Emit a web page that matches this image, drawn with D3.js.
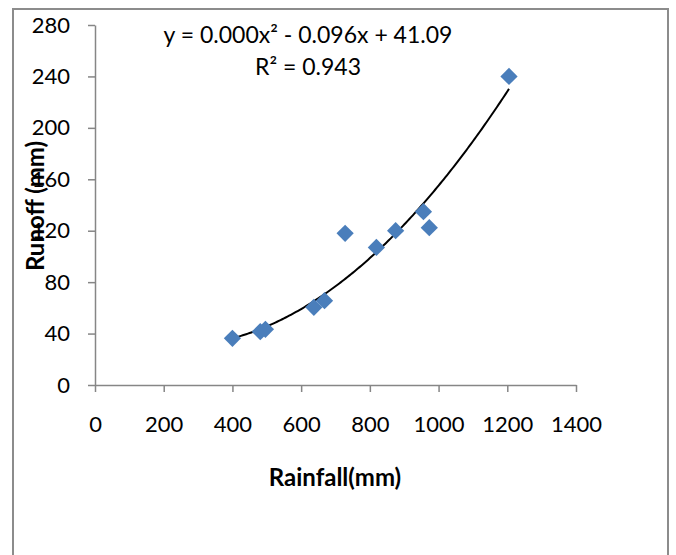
<!DOCTYPE html>
<html>
<head>
<meta charset="utf-8">
<script src="https://cdn.jsdelivr.net/npm/d3@7"></script>
<style>
  body { margin: 0; background: #fff; }
  text { font-family: Lato, "Open Sans", sans-serif; fill: #000; }
</style>
</head>
<body>
<div id="chart"></div>
<script>
// Daten
const rainfall = [400, 481, 496, 637, 668, 728, 819, 875, 956, 973, 1205];
const runoff   = [36.3, 41.5, 43.3, 60.4, 65.6, 118, 107, 120, 134.8, 122.4, 240];
const xTicks = [0, 200, 400, 600, 800, 1000, 1200, 1400];
const yTicks = [0, 40, 80, 120, 160, 200, 240, 280];
// Trendlinie (Polynom 2. Grades), Koeffizienten a, b, c
const trendCoef = [0.00021, -0.096, 41.09];
const eqLabel = "y = 0.000x² - 0.096x + 41.09";
const r2Label = "R² = 0.943";

const width = 676, height = 555;
const margin = { top: 25, right: 100, bottom: 170, left: 95 };
const innerWidth = width - margin.left - margin.right;
const innerHeight = height - margin.top - margin.bottom;

const svg = d3.select("#chart")
  .append("svg")
  .attr("width", width)
  .attr("height", height);

// Rahmen um die Grafik
svg.append("rect")
  .attr("x", 13).attr("y", 9)
  .attr("width", 655).attr("height", 560)
  .attr("fill", "none")
  .attr("stroke", "#8c8c8c")
  .attr("stroke-width", 2);

const xScale = d3.scaleLinear().domain([0, 1400]).range([0, innerWidth]);
const yScale = d3.scaleLinear().domain([0, 280]).range([innerHeight, 0]);

const innerChart = svg.append("g")
  .attr("transform", `translate(${margin.left}, ${margin.top})`);

const bottomAxis = d3.axisBottom(xScale)
  .tickValues(xTicks)
  .tickFormat(d3.format("d"))
  .tickSizeInner(7)
  .tickSizeOuter(0)
  .tickPadding(24);
const gx = innerChart.append("g")
  .attr("transform", `translate(0, ${innerHeight})`)
  .call(bottomAxis);

const leftAxis = d3.axisLeft(yScale)
  .tickValues(yTicks)
  .tickFormat(d3.format("d"))
  .tickSizeInner(7)
  .tickSizeOuter(0)
  .tickPadding(18);
const gy = innerChart.append("g").call(leftAxis);

[gx, gy].forEach(g => {
  g.selectAll("path, line").attr("stroke", "#868686").attr("stroke-width", 1.5);
  g.selectAll("text").style("font-size", "22px").attr("fill", "#000");
});
gx.selectAll("text").attr("dy", "0.71em");

// Trendlinie von min bis max der Messwerte
const trendX = d3.range(d3.min(rainfall), d3.max(rainfall) + 1, 5);
const trendY = x => trendCoef[0] * x * x + trendCoef[1] * x + trendCoef[2];
innerChart.append("path")
  .datum(trendX)
  .attr("fill", "none")
  .attr("stroke", "#000")
  .attr("stroke-width", 2)
  .attr("d", d3.line().x(d => xScale(d)).y(d => yScale(trendY(d))));

// Punkte als Rauten
const diamond = d3.symbol().type(d3.symbolDiamond2).size(190);
innerChart.append("g")
  .selectAll("path")
  .data(rainfall.map((r, i) => ({ x: r, y: runoff[i] })))
  .join("path")
  .attr("transform", d => `translate(${xScale(d.x)}, ${yScale(d.y)})`)
  .attr("d", diamond)
  .attr("fill", "#4a7ebb");

// Gleichung und R²
svg.append("text")
  .attr("x", 308).attr("y", 43)
  .attr("text-anchor", "middle")
  .style("font-size", "23px")
  .text(eqLabel);
svg.append("text")
  .attr("x", 308).attr("y", 75)
  .attr("text-anchor", "middle")
  .style("font-size", "23px")
  .text(r2Label);

// Achsenbeschriftungen
svg.append("text")
  .attr("x", 335).attr("y", 486)
  .attr("text-anchor", "middle")
  .style("font-size", "24px")
  .style("font-weight", "bold")
  .text("Rainfall(mm)");
svg.append("text")
  .attr("transform", "translate(44, 206) rotate(-90)")
  .attr("text-anchor", "middle")
  .style("font-size", "24px")
  .style("font-weight", "bold")
  .text("Runoff (mm)");
</script>
</body>
</html>
